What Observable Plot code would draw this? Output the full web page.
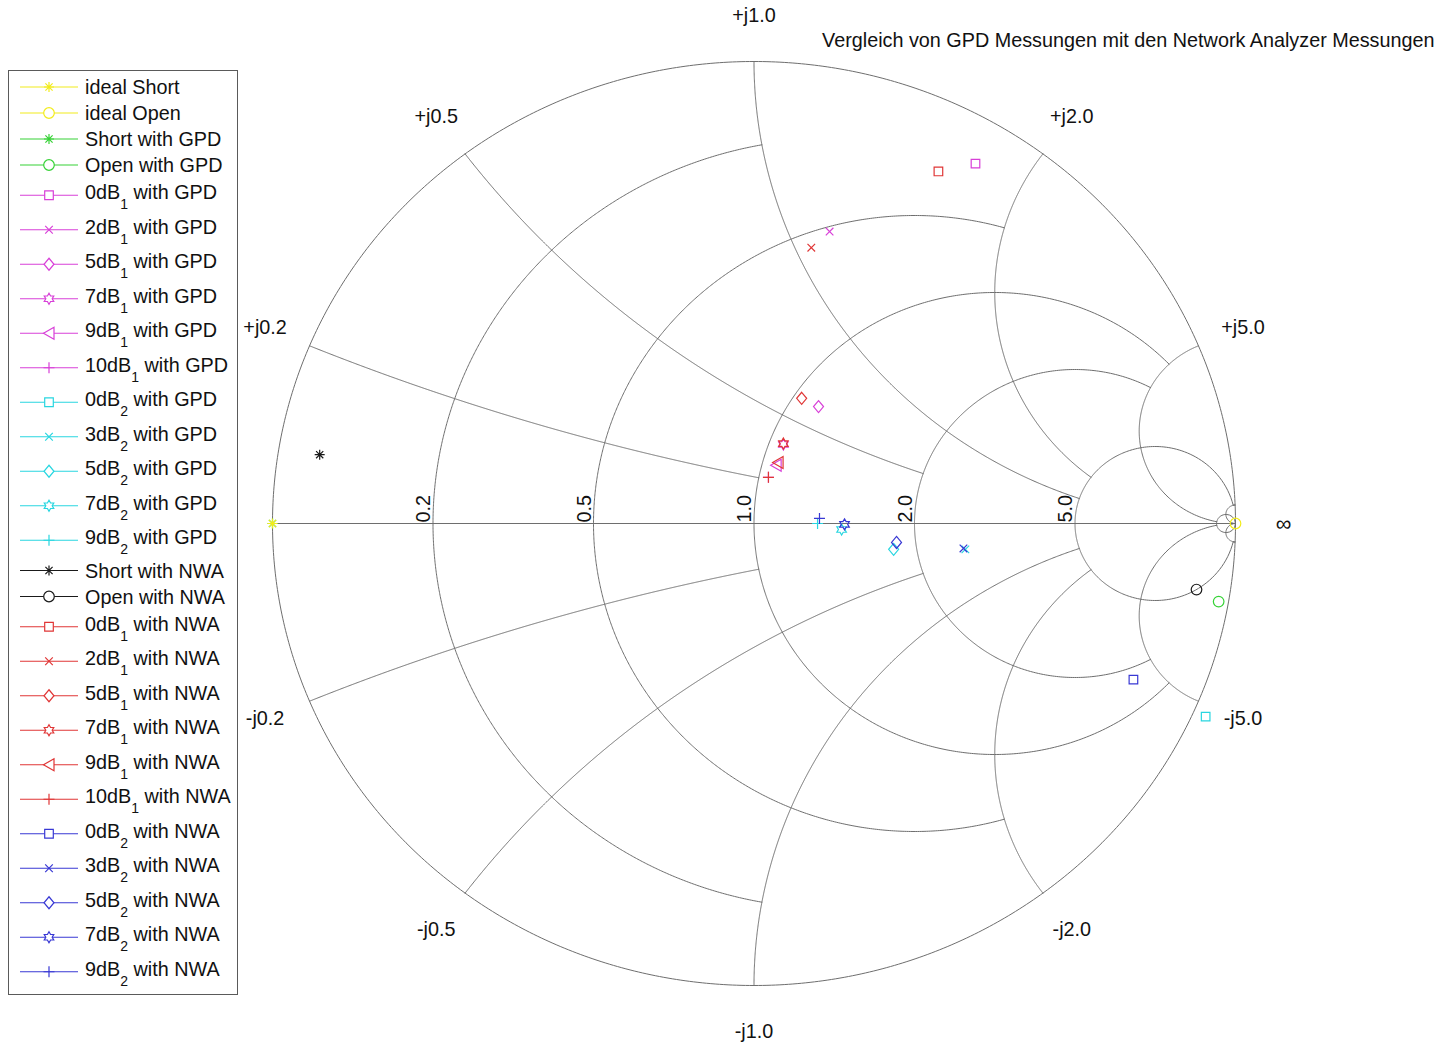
<!DOCTYPE html>
<html><head><meta charset="utf-8">
<script src="https://cdn.jsdelivr.net/npm/d3@7"></script>
<script src="https://cdn.jsdelivr.net/npm/@observablehq/plot@0.6"></script>
<style>
body{margin:0;background:#fff;font-family:"Liberation Sans",Arial,sans-serif;}
#wrap{position:relative;width:1437px;height:1043px;overflow:hidden;}
#wrap > svg{position:absolute;left:0;top:0;}
</style></head><body><div id="wrap"></div>
<script>
// ---------- data (reflection coefficient) ----------
const seriesLabels = ["ideal Short","ideal Open","Short with GPD","Open with GPD",
  "0dB_1 with GPD","2dB_1 with GPD","5dB_1 with GPD","7dB_1 with GPD","9dB_1 with GPD","10dB_1 with GPD",
  "0dB_2 with GPD","3dB_2 with GPD","5dB_2 with GPD","7dB_2 with GPD","9dB_2 with GPD",
  "Short with NWA","Open with NWA",
  "0dB_1 with NWA","2dB_1 with NWA","5dB_1 with NWA","7dB_1 with NWA","9dB_1 with NWA","10dB_1 with NWA",
  "0dB_2 with NWA","3dB_2 with NWA","5dB_2 with NWA","7dB_2 with NWA","9dB_2 with NWA"];
const gammaRe = [-1, 1, -1, 0.965,
  0.460, 0.157, 0.134, 0.061, 0.046, 0.030,
  0.938, 0.439, 0.290, 0.182, 0.132,
  -0.902, 0.919,
  0.383, 0.119, 0.099, 0.061, 0.050, 0.030,
  0.788, 0.435, 0.296, 0.188, 0.136];
const gammaIm = [0, 0, 0, -0.169,
  0.779, 0.632, 0.253, 0.171, 0.126, 0.100,
  -0.418, -0.056, -0.056, -0.013, 0.000,
  0.149, -0.143,
  0.762, 0.597, 0.271, 0.173, 0.132, 0.100,
  -0.338, -0.054, -0.041, -0.002, 0.011];

// Smith chart grid values
const resistanceCircles = [0.2, 0.5, 1, 2, 5, 50];
const resistanceReach   = [1, 2, 5, 5, 50, Infinity];   // |x| where each r-circle stops
const reactanceArcs     = [0.2, 0.5, 1, 2, 5, 50];
const reactanceReach    = [1, 2, 5, 5, 50, Infinity];   // r where each x-arc stops
const resistanceTickLabels = [0.2, 0.5, 1, 2, 5];
const reactanceTickLabels  = [0.2, 0.5, 1, 2, 5];
const titleText = "Vergleich von GPD Messungen mit den Network Analyzer Messungen";

// ---------- styles ----------
const seriesColorKey = ["y","y","g","g","m","m","m","m","m","m","c","c","c","c","c","k","k","r","r","r","r","r","r","b","b","b","b","b"];
const seriesMarker = ["star","circle","star","circle","square","times","diamond","hexagram","triLeft","plus",
  "square","times","diamond","hexagram","plus","star","circle",
  "square","times","diamond","hexagram","triLeft","plus","square","times","diamond","hexagram","plus"];
const palette = {y:"#f2ec1c", g:"#36d236", m:"#d840d8", c:"#28d6e0", k:"#1a1a1a", r:"#e03636", b:"#3838d4"};
const FONT = '"Liberation Sans", Arial, sans-serif';
const FS = 19.8;

function sym(fn){ return {draw(ctx, size){ fn(ctx); }}; }
const symbols = {
  square: sym(c=>{const h=4.3; c.moveTo(-h,-h); c.lineTo(h,-h); c.lineTo(h,h); c.lineTo(-h,h); c.closePath();}),
  circle: sym(c=>{const r=5.3; c.moveTo(r,0); c.arc(0,0,r,0,2*Math.PI); c.closePath();}),
  times: sym(c=>{const h=3.8; c.moveTo(-h,-h); c.lineTo(h,h); c.moveTo(h,-h); c.lineTo(-h,h);}),
  plus: sym(c=>{const h=5.5; c.moveTo(-h,0); c.lineTo(h,0); c.moveTo(0,-h); c.lineTo(0,h);}),
  star: sym(c=>{const h=5, d=3.6; c.moveTo(-h,0); c.lineTo(h,0); c.moveTo(0,-h); c.lineTo(0,h);
        c.moveTo(-d,-d); c.lineTo(d,d); c.moveTo(d,-d); c.lineTo(-d,d);}),
  diamond: sym(c=>{c.moveTo(0,-6); c.lineTo(5,0); c.lineTo(0,6); c.lineTo(-5,0); c.closePath();}),
  triLeft: sym(c=>{c.moveTo(-5.5,0); c.lineTo(5,-6); c.lineTo(5,6); c.closePath();}),
  hexagram: sym(c=>{const R=5.5, r=R/Math.sqrt(3);
    for(let k=0;k<12;k++){const a=-Math.PI/2+k*Math.PI/6, rr=k%2?r:R; const px=rr*Math.cos(a), py=rr*Math.sin(a); k?c.lineTo(px,py):c.moveTo(px,py);} c.closePath();})
};

// ---------- grid geometry ----------
function gamma(r, x){ const d=(r+1)*(r+1)+x*x; return [(r*r-1+x*x)/d, 2*x/d]; }
const N = 700;
const grid = [];
let gid = 0;
function addR(r, X){ const tm=Math.atan(X); const id=gid++;
  for(let k=0;k<=N;k++){ const t=-tm+2*tm*k/N; const g=gamma(r,Math.tan(t)); grid.push({re:g[0],im:g[1],id}); } }
function addX(x, R){ const tm=Math.atan(R); const id=gid++;
  for(let k=0;k<=N;k++){ const t=tm*k/N; const g=gamma(Math.tan(t),x); grid.push({re:g[0],im:g[1],id}); } }
addR(0, Infinity);
resistanceCircles.forEach((r,i)=>addR(r, resistanceReach[i]));
reactanceArcs.forEach((x,i)=>{ addX(x, reactanceReach[i]); addX(-x, reactanceReach[i]); });

const reactLabels = [];
reactanceTickLabels.forEach(x=>{
  [1,-1].forEach(s=>{ const g=gamma(0,s*x); reactLabels.push({re:1.1*g[0], im:1.1*g[1], t:(s>0?"+j":"-j")+x.toFixed(1)}); });
});

const order = d3.range(2, seriesLabels.length).concat([0,1]);
const dotMarks = order.map(i => Plot.dot([i], {
  x: d=>gammaRe[d], y: d=>gammaIm[d], r:5,
  symbol: symbols[seriesMarker[i]], stroke: palette[seriesColorKey[i]], fill:"none", strokeWidth:1.2
}));

const gridColor = "#6e6e6e";
const chart = Plot.plot({
  width: 1437, height: 1043, margin: 0,
  x: {domain:[-1,1], range:[272,1235], axis:null},
  y: {domain:[-1,1], range:[985,61], axis:null},
  style: {fontFamily: FONT, background:"transparent", overflow:"visible"},
  marks: [
    Plot.line(grid, {x:"re", y:"im", z:"id", stroke:gridColor, strokeWidth:1, curve:"linear"}),
    Plot.ruleY([0], {x1:-1, x2:1, stroke:gridColor, strokeWidth:1}),
    Plot.text(resistanceTickLabels, {x:r=>(r-1)/(r+1), y:0, text:r=>r.toFixed(1), rotate:-90,
      textAnchor:"start", lineAnchor:"bottom", dy:-1, dx:-3, fontSize:FS, fill:"#111"}),
    Plot.text(reactLabels, {x:"re", y:"im", text:"t", textAnchor:"middle", lineAnchor:"middle", fontSize:FS, fill:"#111"}),
    Plot.text(["\u221E"], {x:1.1, y:0, text:d=>d, fontSize:22, fill:"#111", lineAnchor:"middle"}),
    Plot.text([titleText], {frameAnchor:"top-right", text:d=>d, textAnchor:"end", lineAnchor:"middle", dx:-3, dy:40, fontSize:FS, fill:"#111"}),
    ...dotMarks
  ]
});
const wrap = document.getElementById("wrap");
wrap.appendChild(chart);

// ---------- legend ----------
const lg = d3.select(wrap).append("svg").attr("width",250).attr("height",1043)
  .style("position","absolute").style("left","0px").style("top","0px").style("overflow","visible");
lg.append("rect").attr("x",8.5).attr("y",70.5).attr("width",229).attr("height",924)
  .attr("fill","white").attr("stroke","#5a5a5a").attr("stroke-width",1);
let L = null, prevHalf = 0;
seriesLabels.forEach((lab,i)=>{
  const hasSub = lab.includes("_");
  const half = hasSub ? 17.25 : 13;
  L = (L===null) ? 87 : L + prevHalf + half;
  prevHalf = half;
  const col = palette[seriesColorKey[i]];
  lg.append("line").attr("x1",20).attr("x2",78).attr("y1",L).attr("y2",L).attr("stroke",col).attr("stroke-width",1.1);
  const p = d3.path(); symbols[seriesMarker[i]].draw(p, 25*Math.PI);
  lg.append("path").attr("d",p.toString()).attr("transform",`translate(49,${L})`).attr("fill","white").attr("stroke",col).attr("stroke-width",1.2);
  const t = lg.append("text").attr("x",85).attr("y", hasSub ? L+4 : L+7)
    .attr("font-family",FONT).attr("font-size",FS).attr("fill","#111").style("white-space","pre");
  if(hasSub){
    const m = lab.match(/^(.*)_(\d)(.*)$/);
    t.append("tspan").text(m[1]);
    t.append("tspan").attr("font-size",14).attr("dy",10).text(m[2]);
    t.append("tspan").attr("dy",-10).text(m[3]);
  } else t.text(lab);
});
</script></body></html>
